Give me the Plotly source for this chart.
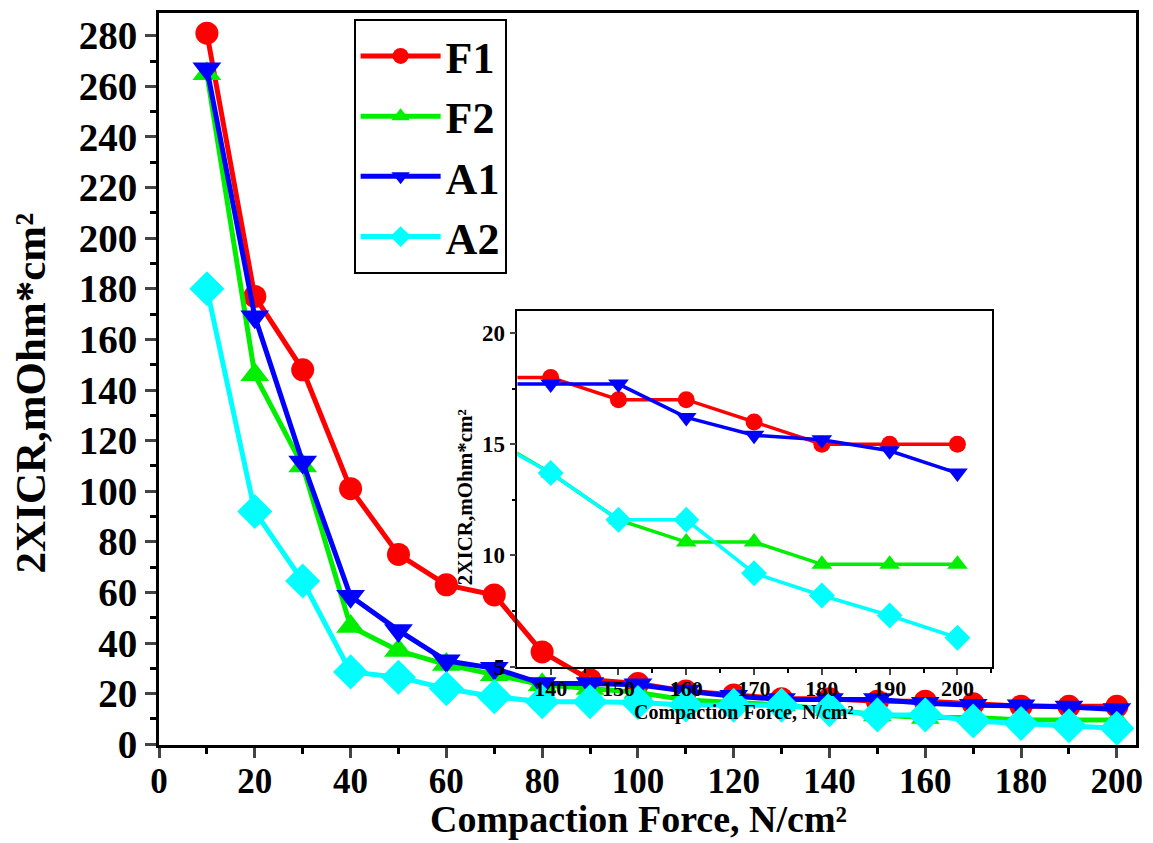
import plotly.graph_objects as go

force = [10, 20, 30, 40, 50, 60, 70, 80, 90, 100, 110, 120, 130, 140, 150, 160, 170, 180, 190, 200]
F1 = [281, 177, 148, 101, 75, 63, 59, 36.5, 25.5, 24, 21, 19.5, 18, 18, 17, 17, 16, 15, 15, 15]
F2 = [265, 146, 110, 46.5, 37, 31.5, 27.5, 23.5, 22, 20.5, 17.5, 16.5, 15.5, 13.7, 11.6, 10.6, 10.6, 9.6, 9.6, 9.6]
A1 = [267, 169, 111.5, 58.5, 45, 33, 30, 24, 24, 23.5, 21, 19, 17.7, 17.7, 17.7, 16.2, 15.4, 15.2, 14.7, 13.7]
A2 = [180, 92, 64.5, 28.6, 26.5, 22, 18.8, 16.8, 16.8, 16.5, 15.5, 15.4, 15.4, 13.7, 11.6, 11.6, 9.2, 8.2, 7.3, 6.3]

names = ["F1", "F2", "A1", "A2"]
series = [F1, F2, A1, A2]
colors = ["#FF0000", "#00EE00", "#0000FF", "#00FFFF"]
symbols = ["circle", "triangle-up", "triangle-down", "diamond"]
main_sizes = [23, 25, 25, 27]
inset_sizes = [17, 18, 18, 20]

FONT = "Liberation Serif"

fig = go.Figure()

for n, s, c, m, ms in zip(names, series, colors, symbols, main_sizes):
    fig.add_trace(go.Scatter(
        x=force, y=s, name=n, mode="lines+markers",
        line=dict(color=c, width=5),
        marker=dict(symbol=m, size=ms, color=c),
        xaxis="x", yaxis="y",
    ))

for n, s, c, m, ms in zip(names, series, colors, symbols, inset_sizes):
    fig.add_trace(go.Scatter(
        x=force, y=s, name=n, mode="lines+markers",
        line=dict(color=c, width=3.5),
        marker=dict(symbol=m, size=ms, color=c),
        xaxis="x2", yaxis="y2", showlegend=False,
    ))

fig.update_layout(
    width=1153, height=843,
    margin=dict(l=159, r=10, t=12, b=98),
    paper_bgcolor="white", plot_bgcolor="rgba(0,0,0,0)",
    font=dict(family=FONT, color="black"),
    xaxis=dict(
        range=[0, 204], tickvals=[0, 20, 40, 60, 80, 100, 120, 140, 160, 180, 200],
        ticks="outside", ticklen=10, tickwidth=3, showline=True, linewidth=3,
        linecolor="black", mirror=True, showgrid=False, zeroline=False,
        tickfont=dict(size=35, family=FONT, weight="bold"), ticklabelstandoff=-7,
        minor=dict(dtick=10, tick0=0, ticks="outside", ticklen=6, tickwidth=3, tickcolor="black"),
    ),
    yaxis=dict(
        range=[-0.3, 289], tickvals=[0, 20, 40, 60, 80, 100, 120, 140, 160, 180, 200, 220, 240, 260, 280],
        ticks="outside", ticklen=11, tickwidth=3, showline=True, linewidth=3,
        linecolor="black", mirror=True, showgrid=False, zeroline=False,
        tickfont=dict(size=39, family=FONT, weight="bold"),
        minor=dict(dtick=10, tick0=0, ticks="outside", ticklen=6, tickwidth=3, tickcolor="black"),
    ),
    xaxis2=dict(
        domain=[0.3669, 0.8526], anchor="y2", range=[135.1, 205.1],
        tickvals=[140, 150, 160, 170, 180, 190, 200],
        ticks="outside", ticklen=6, tickwidth=1.5, showline=True, linewidth=1.5,
        linecolor="black", mirror=True, showgrid=False, zeroline=False,
        tickfont=dict(size=22, family=FONT, weight="bold"), ticklabelstandoff=-5,
        minor=dict(dtick=5, tick0=0, ticks="outside", ticklen=4, tickwidth=1.5, tickcolor="black"),
    ),
    yaxis2=dict(
        domain=[0.1064, 0.5934], anchor="x2", range=[4.98, 21],
        tickvals=[5, 10, 15, 20],
        ticks="outside", ticklen=6, tickwidth=1.5, showline=True, linewidth=1.5,
        linecolor="black", mirror=True, showgrid=False, zeroline=False,
        tickfont=dict(size=23, family=FONT, weight="bold"),
        minor=dict(dtick=2.5, tick0=0, ticks="outside", ticklen=4, tickwidth=1.5, tickcolor="black"),
    ),
    legend=dict(
        x=0.1992, y=0.992, xanchor="left", yanchor="top",
        bgcolor="white", bordercolor="black", borderwidth=2,
        font=dict(size=44, family=FONT, weight="bold"),
        itemwidth=80, tracegroupgap=0,
    ),
    annotations=[
        dict(text="Compaction Force, N/cm²", xref="paper", yref="paper",
             x=0.5 * (403 + 880) / 1153, y=1 - 819 / 843, showarrow=False,
             xanchor="center", yanchor="middle",
             font=dict(size=38, family=FONT, weight="bold")),
        dict(text="2XICR,mOhm*cm²", xref="paper", yref="paper",
             x=30 / 1153, y=1 - 393 / 843, showarrow=False, textangle=-90,
             xanchor="center", yanchor="middle",
             font=dict(size=43, family=FONT, weight="bold")),
        dict(text="Compaction Force, N/cm²", xref="paper", yref="paper",
             x=748 / 1153, y=1 - 712 / 843, showarrow=False,
             xanchor="center", yanchor="middle",
             font=dict(size=20, family=FONT, weight="bold")),
        dict(text="2XICR,mOhm*cm²", xref="paper", yref="paper",
             x=468 / 1153, y=1 - 497 / 843, showarrow=False, textangle=-90,
             xanchor="center", yanchor="middle",
             font=dict(size=21, family=FONT, weight="bold")),
    ],
)

# annotations given in full-figure pixel fractions: convert to plot-area paper coords
L, R, T, B = 159, 10, 12, 98
pw, ph = 1153 - L - R, 843 - T - B
new_ann = []
for a in fig.layout.annotations:
    px = a.x * 1153
    py = (1 - a.y) * 843
    a.x = (px - L) / pw
    a.y = (843 - B - py) / ph
    new_ann.append(a)
fig.layout.annotations = new_ann

fig.write_html("out.html")
